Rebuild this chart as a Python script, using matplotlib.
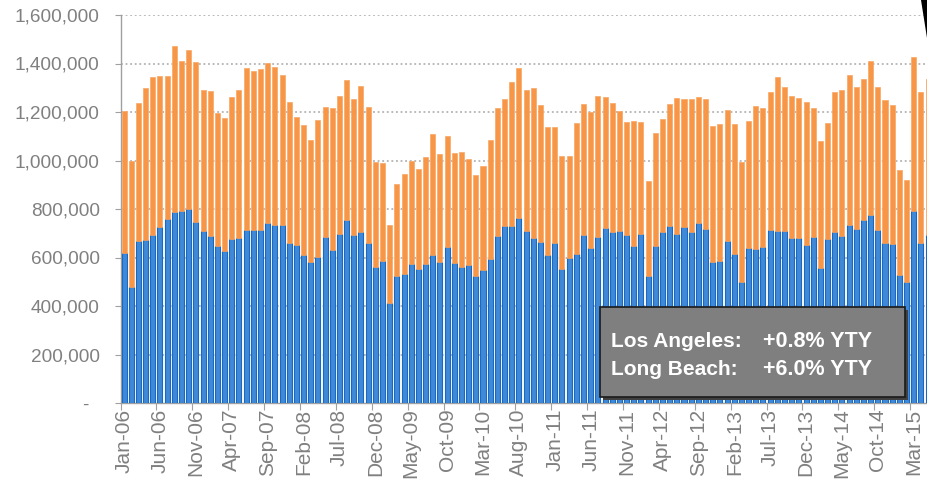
import matplotlib
matplotlib.use("Agg")
import matplotlib.pyplot as plt
import matplotlib.patches as mpatches
import numpy as np
import pandas as pd

plt.rcParams['font.family'] = ['Liberation Sans', 'DejaVu Sans']

# Monthly container volume (TEU), Jan-2006 onwards
months = [d.strftime('%b-%y') for d in pd.date_range('2006-01-01', periods=113, freq='MS')]

los_angeles = [619, 480, 669, 673, 693, 726, 760, 789, 792, 800, 745, 711,
               690, 649, 628, 678, 680, 715, 715, 713, 742, 734, 734, 660,
               652, 612, 581, 602, 685, 631, 697, 755, 691, 705, 658, 560,
               584, 411, 524, 531, 573, 551, 573, 610, 581, 645, 577, 561,
               570, 524, 548, 594, 687, 729, 730, 763, 711, 680, 665, 610,
               658, 553, 599, 614, 691, 639, 686, 722, 705, 711, 693, 647,
               697, 524, 649, 705, 730, 696, 725, 704, 744, 716, 580, 586,
               668, 614, 500, 639, 636, 645, 715, 711, 711, 682, 682, 653,
               685, 558, 675, 705, 689, 734, 716, 756, 775, 715, 660, 657,
               528, 500, 792, 661, 693]
long_beach = [585, 519, 567, 625, 651, 622, 588, 682, 618, 656, 661, 580,
              598, 546, 547, 585, 612, 668, 653, 664, 659, 652, 617, 581,
              526, 534, 504, 564, 534, 585, 568, 577, 561, 601, 563, 433,
              404, 322, 379, 413, 424, 415, 440, 499, 446, 457, 453, 473,
              435, 416, 428, 489, 531, 525, 594, 617, 580, 619, 564, 528,
              480, 464, 418, 539, 541, 560, 579, 540, 531, 492, 466, 515,
              461, 392, 466, 467, 502, 560, 529, 550, 517, 538, 562, 565,
              542, 537, 494, 524, 589, 571, 567, 633, 591, 583, 576, 587,
              533, 522, 481, 576, 603, 617, 589, 579, 635, 587, 589, 573,
              433, 420, 635, 621, 642]

y_ticks = [0, 200000, 400000, 600000, 800000, 1000000, 1200000, 1400000, 1600000]
y_labels = ['-  ', '200,000', '400,000', '600,000', '800,000', '1,000,000',
            '1,200,000', '1,400,000', '1,600,000']

box_lines = [("Los Angeles:", "+0.8% YTY"), ("Long Beach:", "+6.0% YTY")]

W, H = 927, 484
fig = plt.figure(figsize=(W / 100, H / 100), dpi=100)
ax = fig.add_axes([120.5 / W, (H - 403) / H, (W - 120.5) / W, (403 - 15) / H])

x = np.arange(len(months))
la = np.array(los_angeles) * 1000
lb = np.array(long_beach) * 1000
ax.bar(x, la, width=0.7, color='#3f89d8', edgecolor='#1a68bf', linewidth=0.8, zorder=3)
ax.bar(x, lb, bottom=la, width=0.7, color='#f79646', edgecolor='#f8a865', linewidth=0.5, zorder=3)

ax.set_ylim(0, 1600000)
ax.set_xlim(-0.5, 111.85)
ax.set_yticks(y_ticks)
ax.set_yticklabels(y_labels)
for yv in y_ticks[1:]:
    ax.axhline(yv, color='#a6a6a6', linestyle=(0, (1.2, 1.8)), linewidth=1.1, zorder=1)

# x axis: ticks at category boundaries every 5 months, labels at centres
ax.set_xticks(np.arange(-0.5, len(months), 5))
ax.set_xticklabels([])
ax.set_xticks(np.arange(0, len(months), 5), minor=True)
ax.set_xticklabels([months[i] for i in range(0, len(months), 5)], minor=True,
                   rotation=90, fontsize=15, color='#808080')
ax.tick_params(axis='x', which='major', length=5, color='#a0a0a0', direction='out')
ax.tick_params(axis='x', which='minor', length=0, pad=4)
ax.tick_params(axis='y', length=4, color='#a0a0a0', labelsize=13.7, labelcolor='#808080', pad=11)

for s in ['top', 'right']:
    ax.spines[s].set_visible(False)
for s in ['left', 'bottom']:
    ax.spines[s].set_color('#a0a0a0')
    ax.spines[s].set_linewidth(1.0)

# annotation box
bx0, bx1, by0, by1 = 600, 905, 307, 397
shadow = mpatches.Rectangle((bx0 + 3, H - by1 - 3), bx1 - bx0, by1 - by0,
                            transform=None, facecolor='#404040', edgecolor='none', zorder=10)
box = mpatches.Rectangle((bx0, H - by1), bx1 - bx0, by1 - by0, transform=None,
                         facecolor='#7f7f7f', edgecolor='#1a1a1a', linewidth=1.2, zorder=11)
fig.patches.extend([shadow, box])
for i, (name, val) in enumerate(box_lines):
    yb = 347 + i * 28
    fig.text(611 / W, (H - yb) / H, name, color='white', fontsize=15, fontweight='bold',
             va='baseline', ha='left', zorder=12)
    fig.text(763 / W, (H - yb) / H, val, color='white', fontsize=15.5, fontweight='bold',
             va='baseline', ha='left', zorder=12)

# dark wedge in the top-right corner of the slide
wedge = mpatches.Polygon([(921 / W, 1), (1, 1), (1, (H - 38) / H)], closed=True,
                         transform=fig.transFigure, facecolor='black', edgecolor='none', zorder=20)
fig.patches.append(wedge)

fig.savefig('out.png', dpi=100)
